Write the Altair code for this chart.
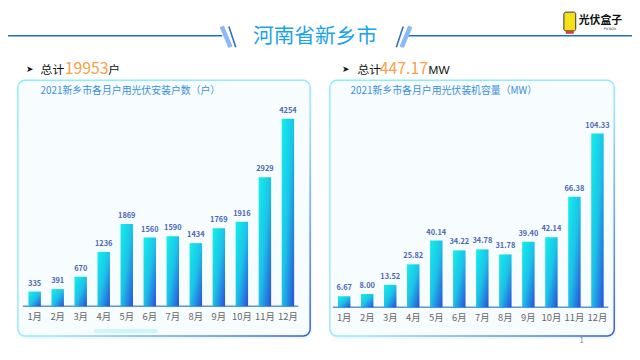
import altair as alt
import pandas as pd

# ---------------- data ----------------
months = ["1月", "2月", "3月", "4月", "5月", "6月", "7月", "8月", "9月", "10月", "11月", "12月"]
installs = [335, 391, 670, 1236, 1869, 1560, 1590, 1434, 1769, 1916, 2929, 4254]
capacity = [6.67, 8.00, 13.52, 25.82, 40.14, 34.22, 34.78, 31.78, 39.40, 42.14, 66.38, 104.33]
total_installs = "19953"
total_capacity = "447.17"
page_title = "河南省新乡市"
left_title = "2021新乡市各月户用光伏安装户数（户）"
right_title = "2021新乡市各月户用光伏装机容量（MW）"

FONT = "Noto Sans CJK SC"
M = 8  # page margin: screen coords -> chart coords


def p(v):
    return v - M


one = alt.Data(values=[{"a": 0}])

bar_fill = alt.Gradient(
    gradient="linear", x1=0, y1=0, x2=1, y2=1,
    stops=[alt.GradientStop(color="#12f0ea", offset=0),
           alt.GradientStop(color="#1cc2e8", offset=0.5),
           alt.GradientStop(color="#2a4ddc", offset=1)],
)
panel_stroke = alt.Gradient(
    gradient="linear", x1=0, y1=0, x2=1, y2=1,
    stops=[alt.GradientStop(color="#8af0f6", offset=0),
           alt.GradientStop(color="#9ee6fa", offset=0.55),
           alt.GradientStop(color="#3a56e2", offset=1)],
)


def rect(x, x2, y, y2, **kw):
    return alt.Chart(one).mark_rect(**kw).encode(
        x=alt.value(p(x)), x2=alt.value(p(x2)), y=alt.value(p(y)), y2=alt.value(p(y2)))


def rule(x, x2, y, y2, **kw):
    return alt.Chart(one).mark_rule(**kw).encode(
        x=alt.value(p(x)), x2=alt.value(p(x2)), y=alt.value(p(y)), y2=alt.value(p(y2)))


def text(t, x, y, **kw):
    kw.setdefault("font", FONT)
    return alt.Chart(one).mark_text(text=t, **kw).encode(x=alt.value(p(x)), y=alt.value(p(y)))


# ---------------- header ----------------
header = [
    rule(0, 225, 34, 34, color="#1f6fc5", strokeWidth=1.5),
    rule(413, 640, 34, 34, color="#1f6fc5", strokeWidth=1.5),
    rule(224.5, 233.3, 24.5, 45.5, color="#8ab8f8", strokeWidth=4.5),
    rule(231.7, 238.7, 24.5, 45.5, color="#2f6fc8", strokeWidth=1.6),
    rule(408.3, 401.3, 24.5, 45.5, color="#2f6fc8", strokeWidth=1.6),
    rule(415.5, 406.7, 24.5, 45.5, color="#8ab8f8", strokeWidth=4.5),
    text(page_title, 319, 35, fontSize=21, color="#1aa3ee", align="center", baseline="middle"),
    # logo
    rect(571, 583, 10, 29, fill="#f5e11a", stroke="#333333", strokeWidth=1, cornerRadius=2),
    rect(573, 581, 29, 32, fill="#e0403a"),
    text("光伏盒子", 586, 19, fontSize=11, fontWeight="bold", color="#111111", align="left", baseline="middle"),
    text("PV-BOX", 624, 27.5, fontSize=3.5, color="#333333", align="right", baseline="middle", font="DejaVu Sans"),
]

# ---------------- panels ----------------
panels = [
    rect(18, 316, 81, 341, fill="#d8f8fb", opacity=0.5, cornerRadius=8),
    rect(334, 624, 81, 341, fill="#d8f8fb", opacity=0.5, cornerRadius=8),
    rect(18, 314, 79, 338, fill="#f7fcff", stroke=panel_stroke, strokeWidth=1.5, cornerRadius=7),
    rect(334, 622, 79, 338, fill="#f7fcff", stroke=panel_stroke, strokeWidth=1.5, cornerRadius=7),
    rect(95, 160, 331, 335, fill="#aef4f6", opacity=0.6, cornerRadius=2),
    text(left_title, 41, 90, fontSize=10, color="#3b8fe0", align="left", baseline="middle"),
    text(right_title, 355, 90, fontSize=10, color="#3b8fe0", align="left", baseline="middle"),
    # totals
    text("➤", 30, 68, fontSize=9, color="#111111", align="center", baseline="middle", font="DejaVu Sans"),
    text("总计", 41, 73, fontSize=12, color="#111111", align="left", baseline="alphabetic"),
    text(total_installs, 65.5, 73, fontSize=16, color="#f7a048", align="left", baseline="alphabetic"),
    text("户", 109.5, 73, fontSize=12, color="#111111", align="left", baseline="alphabetic"),
    text("➤", 350, 68, fontSize=9, color="#111111", align="center", baseline="middle", font="DejaVu Sans"),
    text("总计", 362, 73, fontSize=12, color="#111111", align="left", baseline="alphabetic"),
    text(total_capacity, 384.5, 73, fontSize=16, color="#f7a048", align="left", baseline="alphabetic"),
    text("MW", 434, 73, fontSize=12, color="#111111", align="left", baseline="alphabetic", font="Liberation Sans"),
    # axis lines
    rule(23, 302, 308, 308, color="#5b95d8", strokeWidth=1.5),
    rule(337, 616, 309, 309, color="#5b95d8", strokeWidth=1.5),
    text("1", 589, 343, fontSize=8, color="#888888", align="center", baseline="middle"),
]


# ---------------- bar charts ----------------
def bar_panel(values, xr, yr, label_y, fmt):
    df = pd.DataFrame({"month": months, "value": values})
    xs = alt.Scale(range=[p(xr[0]), p(xr[1])], paddingInner=0.46, paddingOuter=0.23)
    ys = alt.Scale(domain=[0, max(values)], range=[p(yr[0]), p(yr[1])], nice=False, zero=True)
    base = alt.Chart(df)
    x = alt.X("month:N", sort=months, scale=xs, axis=None)
    y = alt.Y("value:Q", scale=ys, axis=None)
    bars = base.mark_bar(fill=bar_fill).encode(x=x, y=y)
    labels = base.mark_text(dy=-4, baseline="bottom", fontSize=7.5, fontWeight="bold",
                            color="#4a68b8", font=FONT).encode(
        x=x, y=y, text=alt.Text("value:Q", format=fmt))
    xlab = base.mark_text(fontSize=9.5, color="#666666", baseline="middle", font=FONT).encode(
        x=x, y=alt.value(p(label_y)), text="month:N")
    return alt.layer(bars, labels, xlab)


left = bar_panel(installs, (23.34, 303.16), (308, 118), 318.5, "d")
right = bar_panel(capacity, (336.84, 616.66), (309, 133), 319.5, ".2f")

chart = alt.layer(*header, *panels, left, right).resolve_scale(
    x="independent", y="independent"
).properties(
    width=632, height=340, autosize=alt.AutoSizeParams(type="none"), padding=0,
    background="#ffffff"
).configure_view(stroke=None)

chart.save("out.html", embed_options={"renderer": "svg", "actions": False})
